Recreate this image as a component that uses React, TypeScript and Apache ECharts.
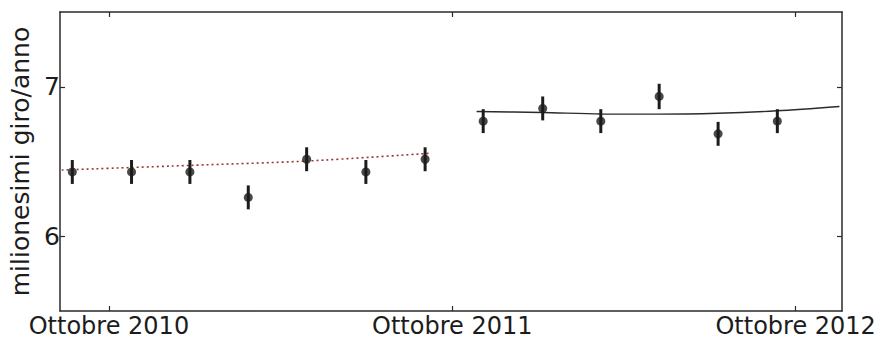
import React, { useEffect, useRef } from "react";
import * as echarts from "echarts";

// x values are months counted from October 2010
const tickMonths = [0, 12, 24];
const tickLabels = ["Ottobre 2010", "Ottobre 2011", "Ottobre 2012"];
const yTicks = [6, 7];

const months1 = [-1.28, 0.79, 2.83, 4.87, 6.91, 8.98, 11.05];
const rate1 = [6.43, 6.43, 6.43, 6.26, 6.515, 6.43, 6.515];
const err1 = [0.08, 0.08, 0.08, 0.08, 0.08, 0.08, 0.08];

const months2 = [13.08, 15.16, 17.19, 19.23, 21.29, 23.36];
const rate2 = [6.77, 6.855, 6.77, 6.935, 6.685, 6.77];
const err2 = [0.08, 0.08, 0.08, 0.085, 0.08, 0.08];

const fit1Months = [-1.65, 2.83, 6.91, 11.22];
const fit1Values = [6.443, 6.474, 6.503, 6.555];

const fit2Months = [12.85, 15.13, 17.2, 19.15, 21.29, 23.35, 25.53];
const fit2Values = [6.834, 6.828, 6.818, 6.817, 6.823, 6.839, 6.868];

const X_MIN = -1.71;
const X_MAX = 25.62;
const Y_MIN = 5.5;
const Y_MAX = 7.5;

const FONT = "DejaVu Sans";
const INK = "#1c1c1c";

export default function App() {
  const ref = useRef<HTMLDivElement>(null);
  useEffect(() => {
    if (!ref.current) return;
    const chart = echarts.init(ref.current, undefined, { renderer: "svg" });
    const axisLine = { show: true, onZero: false, lineStyle: { color: "#2a2a2a", width: 1.5 } };
    const tickStyle = { color: "#2a2a2a", width: 1.2 };
    const errData = [
      ...months1.map((m, i) => [m, rate1[i], err1[i]]),
      ...months2.map((m, i) => [m, rate2[i], err2[i]]),
    ];
    const pointData = [
      ...months1.map((m, i) => [m, rate1[i]]),
      ...months2.map((m, i) => [m, rate2[i]]),
    ];
    const labelFor = (v: number) => {
      const idx = tickMonths.indexOf(Math.round(v));
      return idx >= 0 ? tickLabels[idx] : "";
    };
    chart.setOption({
      animation: false,
      backgroundColor: "#ffffff",
      grid: { left: 60, right: 37, top: 12, bottom: 29, containLabel: false },
      xAxis: [
        {
          type: "value",
          position: "bottom",
          min: X_MIN,
          max: X_MAX,
          axisLine,
          splitLine: { show: false },
          axisTick: { show: true, inside: true, length: 5, customValues: tickMonths, lineStyle: tickStyle },
          axisLabel: {
            customValues: tickMonths,
            formatter: labelFor,
            fontFamily: FONT,
            fontSize: 24,
            lineHeight: 24,
            color: INK,
            margin: 3,
          },
        },
        {
          type: "value",
          position: "top",
          min: X_MIN,
          max: X_MAX,
          axisLine,
          splitLine: { show: false },
          axisTick: { show: true, inside: true, length: 5, customValues: tickMonths, lineStyle: tickStyle },
          axisLabel: { show: false },
        },
      ],
      yAxis: [
        {
          type: "value",
          position: "left",
          min: Y_MIN,
          max: Y_MAX,
          axisLine,
          splitLine: { show: false },
          axisTick: { show: true, inside: true, length: 5, customValues: yTicks, lineStyle: tickStyle },
          axisLabel: {
            customValues: yTicks,
            fontFamily: FONT,
            fontSize: 25,
            color: INK,
            margin: 0,
          },
          name: "milionesimi giro/anno",
          nameLocation: "middle",
          nameRotate: 90,
          nameGap: 17,
          nameTextStyle: { fontFamily: FONT, fontSize: 25, color: INK },
        },
        {
          type: "value",
          position: "right",
          min: Y_MIN,
          max: Y_MAX,
          axisLine,
          splitLine: { show: false },
          axisTick: { show: true, inside: true, length: 5, customValues: yTicks, lineStyle: tickStyle },
          axisLabel: { show: false },
        },
      ],
      series: [
        {
          type: "line",
          data: fit1Months.map((m, i) => [m, fit1Values[i]]),
          showSymbol: false,
          smooth: 0.3,
          lineStyle: { color: "#9a3535", width: 1.6, type: [2, 3] },
          z: 1,
        },
        {
          type: "line",
          data: fit2Months.map((m, i) => [m, fit2Values[i]]),
          showSymbol: false,
          smooth: 0.3,
          lineStyle: { color: "#2b2b2b", width: 1.4 },
          z: 1,
        },
        {
          type: "custom",
          data: errData,
          renderItem: (params: any, api: any) => {
            const x = api.value(0);
            const y = api.value(1);
            const e = api.value(2);
            const top = api.coord([x, y + e]);
            const bot = api.coord([x, y - e]);
            return {
              type: "line",
              shape: { x1: top[0], y1: top[1], x2: bot[0], y2: bot[1] },
              style: { stroke: INK, lineWidth: 3 },
            };
          },
          z: 2,
        },
        {
          type: "scatter",
          data: pointData,
          symbol: "circle",
          symbolSize: 9,
          itemStyle: { color: INK },
          z: 3,
        },
      ],
    });
    return () => chart.dispose();
  }, []);
  return (
    <div
      ref={ref}
      style={{ position: "fixed", left: 0, top: 0, width: 879, height: 340, background: "#fff" }}
    />
  );
}
